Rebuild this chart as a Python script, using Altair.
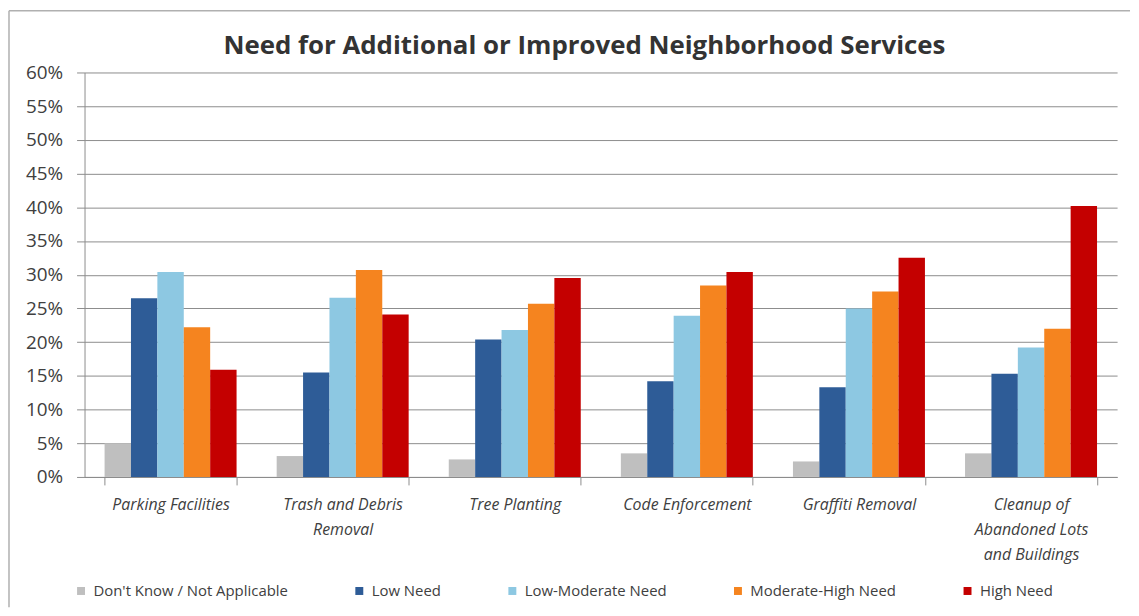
import altair as alt
import pandas as pd

title_text = "Need for Additional or Improved Neighborhood Services"
services = [
    "Parking Facilities",
    "Trash and Debris Removal",
    "Tree Planting",
    "Code Enforcement",
    "Graffiti Removal",
    "Cleanup of Abandoned Lots and Buildings",
]
service_label_lines = [
    ["Parking Facilities"],
    ["Trash and Debris", "Removal"],
    ["Tree Planting"],
    ["Code Enforcement"],
    ["Graffiti Removal"],
    ["Cleanup of", "Abandoned Lots", "and Buildings"],
]
levels = [
    "Don't Know / Not Applicable",
    "Low Need",
    "Low-Moderate Need",
    "Moderate-High Need",
    "High Need",
]
dont_know = [5.0, 3.1, 2.6, 3.5, 2.3, 3.5]
low_need = [26.5, 15.5, 20.4, 14.2, 13.3, 15.3]
low_moderate = [30.4, 26.6, 21.8, 23.9, 25.0, 19.2]
moderate_high = [22.2, 30.7, 25.7, 28.4, 27.5, 22.0]
high_need = [15.9, 24.1, 29.5, 30.4, 32.5, 40.2]
colors = ["#BFBFBF", "#2E5C97", "#8DC8E2", "#F5841F", "#C40000"]
y_ticks = [0, 0.05, 0.10, 0.15, 0.20, 0.25, 0.30, 0.35, 0.40, 0.45, 0.50, 0.55, 0.60]

series = [dont_know, low_need, low_moderate, moderate_high, high_need]
rows = []
for lvl, vals in zip(levels, series):
    for svc, v in zip(services, vals):
        rows.append({"service": svc, "level": lvl, "value": v / 100.0})
df = pd.DataFrame(rows)

# label expression for multi-line category labels
parts = []
for svc, lines in zip(services, service_label_lines):
    arr = "[" + ",".join("'" + l + "'" for l in lines) + "]"
    parts.append(f"datum.value == '{svc}' ? {arr} : ")
label_expr = "".join(parts) + "datum.value"

font = "Open Sans"
text_color = "#404040"
grid_color = "#8C8C8C"
border_color = "#B0B0B0"

bars = (
    alt.Chart(df)
    .mark_bar()
    .encode(
        x=alt.X(
            "service:N",
            sort=services,
            title=None,
            scale=alt.Scale(paddingInner=0.233, paddingOuter=0.1165),
            axis=alt.Axis(
                labelAngle=0,
                labelExpr=label_expr,
                labelFont=font,
                labelFontStyle="italic",
                labelFontSize=16,
                labelColor=text_color,
                labelLineHeight=25,
                labelPadding=12,
                labelLimit=0,
                tickBand="extent",
                tickSize=8,
                tickColor=grid_color,
                domainColor=grid_color,
                grid=False,
            ),
        ),
        xOffset=alt.XOffset("level:N", sort=levels),
        y=alt.Y(
            "value:Q",
            title=None,
            scale=alt.Scale(domain=[0, 0.6], nice=False),
            axis=alt.Axis(
                values=y_ticks,
                format=".0%",
                labelFont=font,
                labelFontSize=19,
                labelColor=text_color,
                labelPadding=14,
                tickSize=8,
                tickColor=grid_color,
                domainColor=grid_color,
                gridColor=grid_color,
                gridWidth=1,
            ),
        ),
        color=alt.Color(
            "level:N",
            sort=levels,
            scale=alt.Scale(domain=levels, range=colors),
            legend=alt.Legend(
                title=None,
                orient="none",
                direction="horizontal",
                columns=5,
                legendX=-11,
                legendY=514,
                symbolType="square",
                symbolSize=64,
                symbolStrokeWidth=0,
                labelFont=font,
                labelFontSize=15,
                labelColor=text_color,
                labelLimit=0,
                columnPadding=64,
                labelOffset=5,
            ),
        ),
    )
)

one_row = pd.DataFrame({"k": [0]})

# chart title
title = alt.Chart(one_row).mark_text(
    font=font, fontSize=26, fontWeight="bold", color="#333333",
    align="center", baseline="middle",
).encode(x=alt.value(503), y=alt.value(-27), text=alt.value(title_text))

# light chart frame (top and left edges, as in the reference)
frame_top = alt.Chart(one_row).mark_rule(color=border_color, strokeWidth=1.5).encode(
    x=alt.value(-76), x2=alt.value(1052), y=alt.value(-62)
)
frame_left = alt.Chart(one_row).mark_rule(color=border_color, strokeWidth=1.5).encode(
    x=alt.value(-76), y=alt.value(-62), y2=alt.value(538)
)

chart = (
    alt.layer(bars, title, frame_top, frame_left)
    .properties(
        width=1039,
        height=407,
        padding={"left": 0, "top": 0, "right": 0, "bottom": 0},
        background="white",
    )
    .configure_view(stroke=None)
)

chart.save("out.html", embed_options={"renderer": "svg", "actions": False})
